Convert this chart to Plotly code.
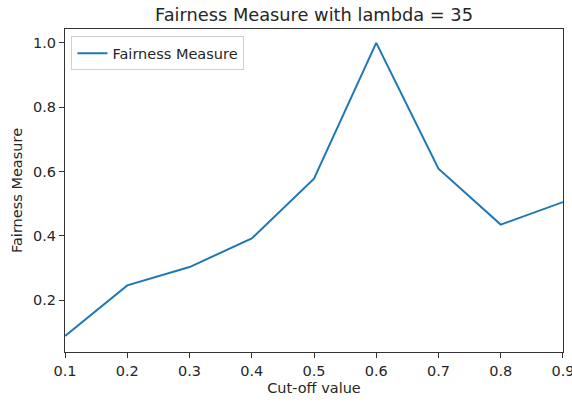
import plotly.graph_objects as go

cutoffs = [0.1, 0.2, 0.3, 0.4, 0.5, 0.6, 0.7, 0.8, 0.9]
fairness = [0.089, 0.246, 0.303, 0.392, 0.578, 1.0, 0.609, 0.435, 0.505]
x_ticks = [0.1, 0.2, 0.3, 0.4, 0.5, 0.6, 0.7, 0.8, 0.9]
y_ticks = [0.2, 0.4, 0.6, 0.8, 1.0]

FONT = "DejaVu Sans"
INK = "#262626"
FS = 14.5

fig = go.Figure()
fig.add_trace(go.Scatter(
    x=cutoffs, y=fairness, mode="lines", name="Fairness Measure",
    line=dict(color="#1f77b4", width=2),
))

axis_common = dict(
    showline=True, linecolor="#333333", linewidth=1.2, mirror=True,
    ticks="outside", ticklen=5, tickwidth=1, tickcolor="#333333",
    showgrid=False, zeroline=False, automargin=False,
    tickfont=dict(family=FONT, size=FS, color=INK),
)

fig.update_layout(
    width=572, height=402,
    margin=dict(l=65, r=9, t=29, b=50),
    paper_bgcolor="white", plot_bgcolor="white",
    font=dict(family=FONT, color=INK),
    title=dict(text="Fairness Measure with lambda = 35", x=0.549, xanchor="center",
               y=0.963, yanchor="middle", font=dict(family=FONT, size=17.8, color=INK)),
    xaxis=dict(range=[0.0999, 0.9001], tickvals=x_ticks, ticktext=[f"{v:.1f}" for v in x_ticks],
               ticklabeloverflow="allow",
               title=dict(text="Cut-off value", font=dict(family=FONT, size=FS, color=INK), standoff=5),
               **axis_common),
    yaxis=dict(range=[0.039, 1.043], tickvals=y_ticks, ticktext=[f"{v:.1f}" for v in y_ticks],
               title=dict(text="Fairness Measure", font=dict(family=FONT, size=FS, color=INK), standoff=6),
               **axis_common),
    showlegend=True,
    legend=dict(x=0.013, y=0.977, xanchor="left", yanchor="top",
                bgcolor="rgba(255,255,255,0.8)", bordercolor="#d0d0d0", borderwidth=1,
                itemwidth=30,
                font=dict(family=FONT, size=FS, color=INK)),
)

fig.write_html("out.html")
